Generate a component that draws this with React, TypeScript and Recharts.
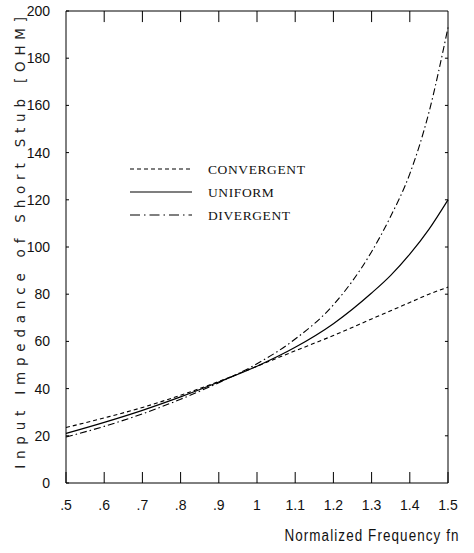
import React from 'react';
import { LineChart, Line, XAxis, YAxis, ReferenceLine } from 'recharts';

const freq = [0.5, 0.6, 0.7, 0.8, 0.9, 1.0, 1.1, 1.2, 1.3, 1.35, 1.4, 1.45, 1.5];
const convergent = [23.5, 27.6, 32, 37.2, 43, 49.5, 56, 62.5, 69.5, 73, 76.5, 80, 83];
const uniform = [21, 25.7, 30.8, 36.5, 42.8, 49.5, 57.5, 67.5, 80.5, 88, 97, 107.5, 120];
const divergent = [19.5, 24, 29.3, 35.5, 42.5, 50.5, 61, 75.5, 98, 113, 131, 157, 193];

const xTicks = [0.5, 0.6, 0.7, 0.8, 0.9, 1.0, 1.1, 1.2, 1.3, 1.4, 1.5];
const yTicks = [0, 20, 40, 60, 80, 100, 120, 140, 160, 180, 200];

const legendItems = [
  { name: 'CONVERGENT', dash: '4 3' },
  { name: 'UNIFORM', dash: '' },
  { name: 'DIVERGENT', dash: '10 4 1.5 4' },
];

const data = freq.map((f, i) => ({
  fn: f,
  convergent: convergent[i],
  uniform: uniform[i],
  divergent: divergent[i],
}));

const X0 = 0.5, X1 = 1.5, Y0 = 0, Y1 = 200;
const xTickLen = 4.7; // top ticks, in data units
const yTickLen = 0.008; // right ticks, in data units

const tickFont = '"Liberation Sans", Arial, sans-serif';

const fmtX = (v: number) => {
  if (v < 1) return '.' + Math.round(v * 10);
  if (Math.abs(v - 1) < 1e-6) return '1';
  return v.toFixed(1);
};

const innerX = xTicks.slice(1, -1);
const innerY = yTicks.slice(1, -1);

export default function App() {
  return (
    <div style={{ position: 'absolute', left: 0, top: 0, width: 474, height: 553, background: '#fff' }}>
      <LineChart width={474} height={553} data={data} margin={{ top: 11, right: 26, left: 10, bottom: 30 }}>
        {/* negative tick sizes point the ticks into the plot */}
        <XAxis
          dataKey="fn"
          type="number"
          domain={[X0, X1]}
          ticks={xTicks}
          height={40}
          tickSize={-11}
          tickMargin={28}
          tickFormatter={fmtX}
          tick={{ fontFamily: tickFont, fontSize: 14, fill: '#111' }}
          axisLine={{ stroke: '#000' }}
          tickLine={{ stroke: '#000' }}
        />
        <YAxis
          type="number"
          domain={[Y0, Y1]}
          ticks={yTicks}
          width={56}
          tickSize={-3}
          tickMargin={19}
          tick={{ fontFamily: tickFont, fontSize: 14, fill: '#111' }}
          axisLine={{ stroke: '#000' }}
          tickLine={{ stroke: '#000' }}
        />
        <ReferenceLine y={Y1} stroke="#000" />
        <ReferenceLine x={X1} stroke="#000" />
        {innerX.map((v) => (
          <ReferenceLine key={'t' + v} segment={[{ x: v, y: Y1 }, { x: v, y: Y1 - xTickLen }]} stroke="#000" />
        ))}
        {innerY.map((v) => (
          <ReferenceLine key={'r' + v} segment={[{ x: X1, y: v }, { x: X1 - yTickLen, y: v }]} stroke="#000" />
        ))}
        <Line type="monotone" dataKey="convergent" stroke="#000" strokeWidth={1.1} strokeDasharray="4 3" dot={false} isAnimationActive={false} />
        <Line type="monotone" dataKey="uniform" stroke="#000" strokeWidth={1.2} dot={false} isAnimationActive={false} />
        <Line type="monotone" dataKey="divergent" stroke="#000" strokeWidth={1.1} strokeDasharray="7 3 1.5 3" dot={false} isAnimationActive={false} />
      </LineChart>
      <svg width={220} height={70} style={{ position: 'absolute', left: 120, top: 159 }}>
        {legendItems.map((it, i) => (
          <g key={it.name}>
            <line x1={10} x2={72} y1={10 + i * 23} y2={10 + i * 23} stroke="#000" strokeWidth={1.2} strokeDasharray={it.dash} />
            <text x={88} y={15 + i * 23} fontFamily='"Liberation Serif", "DejaVu Serif", serif' fontSize={13.5} letterSpacing={0.6} fill="#111">
              {it.name}
            </text>
          </g>
        ))}
      </svg>
      <div
        style={{
          position: 'absolute',
          left: 20,
          top: 240,
          transform: 'translate(-50%, -50%) rotate(-90deg)',
          whiteSpace: 'nowrap',
          fontFamily: '"DejaVu Sans", sans-serif',
          fontSize: 13.5,
          letterSpacing: 5.8,
          color: '#222',
        }}
      >
        Input Impedance of Short Stub [OHM]
      </div>
      <div
        style={{
          position: 'absolute',
          right: 14,
          top: 527,
          whiteSpace: 'nowrap',
          fontFamily: tickFont,
          fontSize: 16,
          letterSpacing: 1.3,
          color: '#111',
          transform: 'scaleX(0.84)',
          transformOrigin: 'right center',
        }}
      >
        Normalized Frequency fn
      </div>
    </div>
  );
}
